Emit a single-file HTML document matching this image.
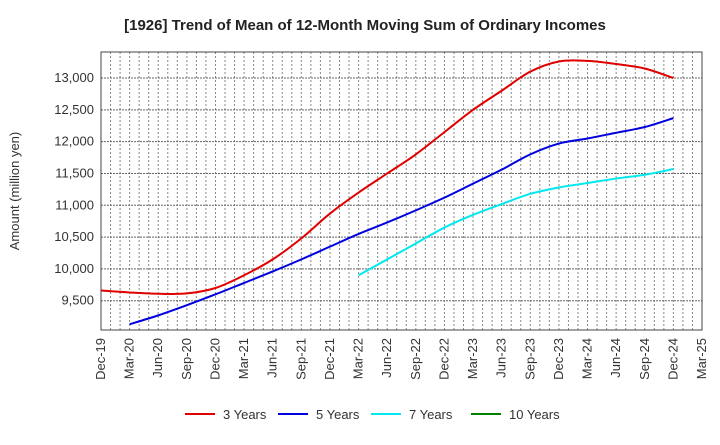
<!DOCTYPE html>
<html><head><meta charset="utf-8"><style>
body{margin:0;background:#fff;font-family:"Liberation Sans",sans-serif}
</style></head><body>
<svg id="c" width="720" height="440" xmlns="http://www.w3.org/2000/svg">
<text x="365" y="30" text-anchor="middle" font-size="15" font-weight="bold" fill="#222">[1926]  Trend of Mean of 12-Month Moving Sum of Ordinary Incomes</text>
<text transform="translate(19,191) rotate(-90)" text-anchor="middle" font-size="13" fill="#333">Amount (million yen)</text>
<g id="grid"></g><g id="axes"></g><g id="series"></g><g id="legend"></g>
</svg>
<script>
const xLabels=["Dec-19","Mar-20","Jun-20","Sep-20","Dec-20","Mar-21","Jun-21","Sep-21","Dec-21","Mar-22","Jun-22","Sep-22","Dec-22","Mar-23","Jun-23","Sep-23","Dec-23","Mar-24","Jun-24","Sep-24","Dec-24","Mar-25"];
const yTicks=[9500,10000,10500,11000,11500,12000,12500,13000];
const s3=[9660,9630,9610,9615,9700,9900,10150,10480,10870,11200,11500,11800,12150,12500,12800,13100,13260,13270,13220,13150,13000];
const s5=[null,9130,9270,9430,9600,9780,9960,10150,10350,10550,10730,10920,11120,11340,11560,11800,11970,12050,12140,12230,12370];
const s7=[null,null,null,null,null,null,null,null,null,9900,10150,10400,10650,10850,11020,11180,11280,11350,11420,11480,11570];
const s10=[];
const L=101,R=702,T=52,B=330,yMin=9040,yMax=13409;
const NS="http://www.w3.org/2000/svg";
const x=i=>L+(R-L)*i/(xLabels.length-1);
const y=v=>B-(v-yMin)/(yMax-yMin)*(B-T);
function mk(t,a,p){const e=document.createElementNS(NS,t);for(const k in a)e.setAttribute(k,a[k]);p.appendChild(e);return e;}
const g=document.getElementById('grid'),ax=document.getElementById('axes'),se=document.getElementById('series'),lg=document.getElementById('legend');
for(let m=1;m<63;m++){const xx=L+(R-L)*m/63;
const l=mk('line',{x1:xx,x2:xx,y1:T,y2:B,stroke:'#888','stroke-dasharray':'2,2','stroke-width':1},g);

}
yTicks.forEach(v=>{const l=mk('line',{x1:L,x2:R,y1:y(v),y2:y(v),stroke:'#666','stroke-dasharray':'2,1','stroke-width':1},g);


const t=mk('text',{x:L-7,y:y(v)+4,'text-anchor':'end','font-size':13,fill:'#333'},ax);t.textContent=v.toLocaleString('en-US');

});
const fr=mk('rect',{x:L,y:T,width:R-L,height:B-T,fill:'none',stroke:'#444','stroke-width':1},ax);


xLabels.forEach((lb,i)=>{const t=mk('text',{transform:`translate(${x(i)+4},${B+8}) rotate(-90)`,'text-anchor':'end','font-size':13,fill:'#333'},ax);t.textContent=lb;

});
function path(arr){const p=[];arr.forEach((v,i)=>{if(v!=null)p.push([x(i),y(v)]);});if(!p.length)return '';
let d=`M${p[0][0]},${p[0][1]}`;for(let i=0;i<p.length-1;i++){const p0=p[i-1]||p[i],p1=p[i],p2=p[i+1],p3=p[i+2]||p2;
d+=` C${p1[0]+(p2[0]-p0[0])/6},${p1[1]+(p2[1]-p0[1])/6} ${p2[0]-(p3[0]-p1[0])/6},${p2[1]-(p3[1]-p1[1])/6} ${p2[0]},${p2[1]}`;}return d;}
const series=[[s3,'#e00000','3 Years','line-3-years'],[s5,'#0000e0','5 Years','line-5-years'],[s7,'#00e8f0','7 Years','line-7-years'],[s10,'#008000','10 Years','line-10-years']];
series.forEach(([d,c,n,nm],k)=>{const d2=path(d);if(d2){const p=mk('path',{d:d2,fill:'none',stroke:c,'stroke-width':2},se);

}
const lx=[185,278,371,471][k];
const ll=mk('line',{x1:lx,x2:lx+30,y1:414,y2:414,stroke:c,'stroke-width':2},lg);


const t=mk('text',{x:lx+38,y:419,'font-size':13,fill:'#333'},lg);t.textContent=n;

});
</script>
</body></html>
